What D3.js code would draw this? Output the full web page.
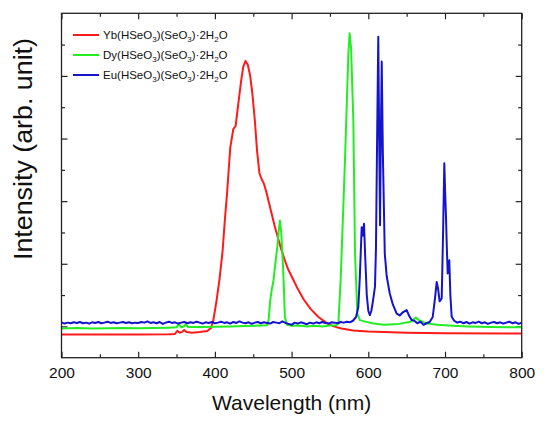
<!DOCTYPE html>
<html>
<head>
<meta charset="utf-8">
<script src="https://cdn.jsdelivr.net/npm/d3@7"></script>
<style>
  body { margin: 0; background: #fff; }
  text { font-family: "Liberation Sans", Arial, sans-serif; fill: #111; }
</style>
</head>
<body>
<script>
// emission spectra, [wavelength (nm), intensity (arb.)]
var ybData = [[200,0.74],[250,0.74],[300,0.74],[340,0.75],[348,0.76],[351,0.86],[354,0.8],[357,0.82],
  [360,0.88],[363,0.82],[370,0.8],[380,0.82],[390,0.85],[395,0.95],[398,1.2],[402,1.8],[406,2.5],
  [410,3.4],[413,4.4],[416,5.3],[420,6.7],[424,7.3],[427,7.4],[430,8.0],[434,8.8],[437,9.3],[440,9.48],
  [443,9.35],[446,9.0],[449,8.4],[452,7.6],[455,6.6],[458,5.9],[461,5.7],[464,5.55],[467,5.3],[470,5.0],
  [474,4.6],[478,4.2],[482,3.85],[486,3.5],[490,3.2],[495,2.85],[500,2.6],[508,2.2],[516,1.85],
  [525,1.55],[535,1.3],[545,1.12],[555,1.0],[565,0.93],[580,0.87],[600,0.84],[650,0.8],[700,0.78],[800,0.77]];

var dyData = [[200,0.93],[220,0.95],[240,0.93],[260,0.94],[280,0.95],[300,0.94],[320,0.95],[340,0.96],
  [350,0.97],[353,1.08],[356,0.97],[359,0.99],[362,1.06],[365,0.98],[380,0.98],[400,0.99],[420,1.0],
  [440,1.01],[460,1.03],[468,1.04],[470,1.2],[472,1.8],[474,2.16],[476,2.4],[478.3,2.9],[481.3,3.53],
  [483,4.0],[484.8,4.38],[486.5,4.0],[488.2,3.22],[490,2.2],[491.2,1.3],[494,1.05],[500,1.02],[510,1.03],
  [520,1.0],[530,1.02],[540,1.0],[550,1.03],[558,1.04],[561,1.1],[564,2.5],[567.4,4.8],[570,6.6],
  [571.8,8.0],[574,9.7],[575.6,10.36],[577.5,9.9],[580.5,7.57],[582.7,3.32],[585.7,1.41],[589,1.2],
  [595,1.16],[605,1.1],[620,1.05],[640,1.08],[655,1.15],[662,1.28],[666,1.2],[675,1.1],[690,1.05],
  [710,1.02],[730,1.0],[760,0.98],[800,0.97]];

var euData = [[200,1.13],[204,1.09],[208,1.12],[212,1.10],[216,1.13],[220,1.11],[224,1.14],[228,1.10],
  [232,1.12],[236,1.09],[240,1.13],[244,1.11],[248,1.14],[252,1.10],[256,1.12],[260,1.15],[264,1.11],
  [268,1.13],[272,1.10],[276,1.12],[280,1.14],[284,1.11],[288,1.13],[292,1.10],[296,1.12],[300,1.11],
  [304,1.14],[308,1.12],[312,1.16],[316,1.11],[320,1.13],[324,1.10],[328,1.14],[332,1.08],[336,1.12],
  [340,1.15],[344,1.11],[348,1.13],[352,1.09],[356,1.12],[360,1.14],[364,1.10],[368,1.13],[372,1.11],
  [376,1.15],[380,1.12],[384,1.09],[388,1.13],[392,1.11],[396,1.14],[400,1.10],[404,1.12],[408,1.15],
  [412,1.11],[416,1.13],[420,1.09],[424,1.14],[428,1.11],[432,1.16],[436,1.12],[440,1.10],[444,1.13],
  [448,1.08],[452,1.12],[456,1.14],[460,1.10],[464,1.13],[468,1.11],[472,1.09],[476,1.14],[480,1.12],
  [484,1.10],[488,1.16],[492,1.11],[496,1.08],[500,1.05],[504,1.12],[508,1.09],[512,1.13],[516,1.10],
  [520,1.07],[524,1.12],[528,1.09],[532,1.13],[536,1.10],[540,1.14],[544,1.11],[548,1.09],[552,1.13],
  [556,1.12],[560,1.10],[564,1.14],[568,1.12],[572,1.15],[576,1.13],[580,1.18],[584,1.3],[587,1.62],
  [589,2.6],[591.4,4.17],[593,3.9],[594.4,4.28],[596,3.2],[598,2.0],[600,1.5],[602,1.36],[604,1.5],
  [606,1.8],[608.7,2.27],[610,3.5],[611.5,7.0],[613,10.25],[614.2,7.0],[615.3,4.23],[616.3,7.0],
  [617.5,9.46],[619,6.5],[621.5,3.32],[624,2.6],[628,2.05],[632,1.7],[637,1.41],[641,1.35],[645,1.45],
  [650,1.52],[653,1.35],[656.6,1.2],[660,1.18],[664,1.1],[668,1.15],[672,1.05],[676,1.1],[680,1.14],
  [684,1.3],[687,1.9],[689.2,2.42],[691,2.2],[693,1.8],[695.7,1.89],[697.5,4.0],[699.1,6.21],[700.3,5.2],
  [701.3,4.49],[702.4,3.5],[703.5,2.69],[705.6,3.11],[707,2.0],[708.7,1.31],[712,1.18],[716,1.12],
  [719.6,1.15],[724,1.1],[728,1.14],[732,1.09],[736,1.13],[740,1.11],[744,1.15],[748,1.1],[752,1.13],
  [756,1.08],[760,1.12],[764,1.14],[768,1.1],[772,1.13],[776,1.09],[780,1.12],[784,1.15],[788,1.1],
  [792,1.13],[796,1.08],[800,1.12]];

var seriesNames = ["Yb", "Dy", "Eu"];
var seriesColors = ["#ff1a1a", "#22ee22", "#1414cc"];

var xMajor = [200, 300, 400, 500, 600, 700, 800];
var xMinor = [250, 350, 450, 550, 650, 750];
var yMajor = [1, 3, 5, 7, 9];
var yMinor = [2, 4, 6, 8, 10];

var W = 548, H = 427;
var margin = {left: 61.5, right: 26.3, top: 13.3, bottom: 69.3};

var svg = d3.select("body").append("svg")
    .attr("width", W)
    .attr("height", H);

var x = d3.scaleLinear().domain([200, 800]).range([margin.left, W - margin.right]);
var y = d3.scaleLinear().domain([0, 11]).range([H - margin.bottom, margin.top]);

// ticks all point inward
function ticks(axis, vals, size, tx, ty, labels) {
  var g = svg.append("g")
    .attr("transform", "translate(" + tx + "," + ty + ")")
    .call(axis.tickValues(vals).tickSizeInner(size).tickSizeOuter(0)
      .tickPadding(9).tickFormat(labels ? d3.format("d") : ""));
  g.select(".domain").remove();
  g.selectAll("line").attr("stroke", "#222").attr("stroke-width", 1.2);
  g.selectAll("text").attr("font-size", 15.5).attr("font-family", "Liberation Sans, Arial, sans-serif").attr("fill", "#111");
  return g;
}
var x0 = margin.left, x1 = W - margin.right, y0 = H - margin.bottom, y1 = margin.top;
ticks(d3.axisBottom(x), xMajor, -6, 0, y0, true);
ticks(d3.axisBottom(x), xMinor, -3.5, 0, y0, false);
ticks(d3.axisTop(x), xMajor, -6, 0, y1, false);
ticks(d3.axisTop(x), xMinor, -3.5, 0, y1, false);
ticks(d3.axisLeft(y), yMajor, -6, x0, 0, false);
ticks(d3.axisLeft(y), yMinor, -3.5, x0, 0, false);
ticks(d3.axisRight(y), yMajor, -6, x1, 0, false);
ticks(d3.axisRight(y), yMinor, -3.5, x1, 0, false);

// spectra
var line = d3.line()
    .x(function(d){ return x(d[0]); })
    .y(function(d){ return y(d[1]); });

var clip = svg.append("clipPath").attr("id", "plotclip")
  .append("rect").attr("x", x0).attr("y", y1).attr("width", x1 - x0).attr("height", y0 - y1);

[ybData, dyData, euData].forEach(function(d, i){
  svg.append("path")
    .datum(d)
    .attr("d", line)
    .attr("fill", "none")
    .attr("stroke", seriesColors[i])
    .attr("stroke-width", 2)
    .attr("stroke-linejoin", "round")
    .attr("clip-path", "url(#plotclip)");
});

// frame
svg.append("rect")
  .attr("x", x0).attr("y", y1)
  .attr("width", x1 - x0).attr("height", y0 - y1)
  .attr("fill", "none").attr("stroke", "#222").attr("stroke-width", 1.3);

// legend with subscripts
var legend = svg.append("g");
seriesNames.forEach(function(name, i){
  var ly = 35 + i * 20;
  legend.append("line")
    .attr("x1", 73).attr("x2", 99).attr("y1", ly).attr("y2", ly)
    .attr("stroke", seriesColors[i]).attr("stroke-width", 2);
  var t = legend.append("text")
    .attr("x", 103).attr("y", ly + 4)
    .attr("font-size", 11.5);
  var parts = [[name + "(HSeO", 0], ["3", 1], [")(SeO", 0], ["3", 1], [")\u00b72H", 0], ["2", 1], ["O", 0]];
  var down = false;
  parts.forEach(function(p){
    var s = t.append("tspan").text(p[0]);
    if (p[1]) { s.attr("font-size", 8).attr("dy", 3); down = true; }
    else if (down) { s.attr("dy", -3); down = false; }
  });
});

// axis titles
svg.append("text")
  .attr("x", (x0 + x1) / 2).attr("y", 410)
  .attr("text-anchor", "middle")
  .attr("font-size", 21)
  .text("Wavelength (nm)");

svg.append("text")
  .attr("transform", "translate(32,149) rotate(-90)")
  .attr("text-anchor", "middle")
  .attr("font-size", 25)
  .attr("textLength", 222)
  .attr("lengthAdjust", "spacingAndGlyphs")
  .text("Intensity (arb. unit)");
</script>
</body>
</html>
